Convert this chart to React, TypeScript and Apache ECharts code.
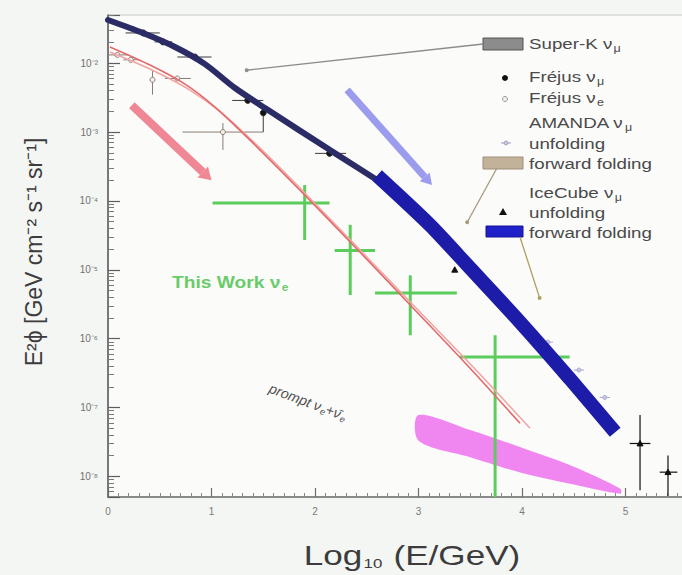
import React, { useEffect, useRef } from 'react';
import * as echarts from 'echarts';

const FONT = "'Liberation Sans', Arial, Helvetica, sans-serif";

// Axis ranges: x is log10(E/GeV), y is E^2 phi on a log scale
const X_MIN = 0;
const X_MAX = 5.7;
const Y_MIN = Math.pow(10, -8.3);
const Y_MAX = Math.pow(10, -1.3);
const X_TICK_LABELS = ['0', '1', '2', '3', '4', '5'];
const SUPERSCRIPT: Record<string, string> = {
  '-': '⁻', '0': '⁰', '1': '¹', '2': '²', '3': '³', '4': '⁴',
  '5': '⁵', '6': '⁶', '7': '⁷', '8': '⁸', '9': '⁹',
};

// Conventional nu_mu flux (dark band, low energies)
const conventionalX = [0, 0.338, 0.647, 0.937, 1.227, 1.517, 2.145, 2.754];
const conventionalY = [4.24e-2, 2.74e-2, 1.72e-2, 9.7e-3, 4.36e-3, 2.23e-3, 5.47e-4, 1.43e-4];

// IceCube nu_mu forward folding band
const iceCubeFFX = [2.6, 3.11, 3.5, 3.98, 4.46, 4.9];
const iceCubeFFY = [2.34e-4, 4.47e-5, 1.05e-5, 1.74e-6, 2.63e-7, 4.37e-8];

// nu_e model curves (pair of thin red lines)
const nueUpperX = [0.019, 0.406, 0.744, 1.034, 1.372, 1.855, 2.435, 2.986, 3.498, 3.981];
const nueUpperY = [1.72e-2, 9.4e-3, 4.98e-3, 2.31e-3, 7.64e-4, 1.43e-4, 1.8e-5, 2.42e-6, 3.71e-7, 5.89e-8];
const nueLowerX = [0.019, 0.425, 0.792, 1.101, 1.449, 1.932, 2.512, 3.072, 3.585, 4.077];
const nueLowerY = [1.45e-2, 7.96e-3, 4.07e-3, 1.89e-3, 6.25e-4, 1.17e-4, 1.47e-5, 1.98e-6, 3.14e-7, 4.98e-8];

// Prompt nu_e band: upper and lower edges
const promptX = [3.0, 3.5, 4.0, 4.5, 4.95];
const promptUpper = [7.8e-8, 4.7e-8, 2.6e-8, 1.38e-8, 6.6e-9];
const promptLower = [3.3e-8, 1.9e-8, 1.12e-8, 7.6e-9, 5.6e-9];

// Points with error bars: [x, y, xLow, xHigh, yLow, yHigh]
const thisWorkNue = [
  [1.9, 9.3e-5, 1.01, 2.14, 2.7e-5, 1.7e-4],
  [2.34, 1.9e-5, 2.19, 2.58, 4.3e-6, 4.5e-5],
  [2.92, 4.6e-6, 2.58, 3.37, 1.12e-6, 8.3e-6],
  [3.74, 5.4e-7, 3.4, 4.46, 5.0e-9, 1.12e-6],
];
const frejusNuMu = [
  [0.34, 2.75e-2, 0.17, 0.5, 2.75e-2, 2.75e-2],
  [0.53, 2.04e-2, 0.45, 0.62, 2.04e-2, 2.04e-2],
  [0.84, 1.23e-2, 0.67, 1.0, 1.23e-2, 1.23e-2],
  [1.35, 2.88e-3, 1.2, 1.5, 2.88e-3, 2.88e-3],
  [1.5, 1.9e-3, 1.5, 1.5, 1.0e-3, 2.45e-3],
  [2.14, 4.9e-4, 2.0, 2.3, 4.9e-4, 4.9e-4],
];
const frejusNue = [
  [0.09, 1.32e-2, 0.0, 0.2, 1.32e-2, 1.32e-2],
  [0.22, 1.12e-2, 0.15, 0.3, 1.12e-2, 1.12e-2],
  [0.43, 5.75e-3, 0.43, 0.43, 3.5e-3, 7.9e-3],
  [0.67, 6.0e-3, 0.55, 0.8, 6.0e-3, 6.0e-3],
  [1.11, 1.0e-3, 0.72, 1.5, 5.5e-4, 1.35e-3],
];
const iceCubeUnfolding = [
  [3.35, 1.0e-5, 3.35, 3.35, 1.0e-5, 1.0e-5],
  [3.69, 5.6e-6, 3.69, 3.69, 5.6e-6, 5.6e-6],
  [5.14, 3.0e-8, 5.04, 5.24, 6.3e-9, 7.8e-8],
  [5.41, 1.15e-8, 5.33, 5.5, 5.2e-9, 2.0e-8],
];
const amandaUnfolding = [
  [4.25, 8.9e-7, 4.2, 4.3, 8.9e-7, 8.9e-7],
  [4.55, 3.5e-7, 4.5, 4.6, 3.5e-7, 3.5e-7],
  [4.8, 1.4e-7, 4.75, 4.85, 1.4e-7, 1.4e-7],
];

// Arrows and leader lines: [x, y] in data units
const pinkArrow = [[0.23, 2.45e-3], [1.0, 2.0e-4]];
const violetArrow = [[2.31, 4.1e-3], [3.13, 1.7e-4]];
const superKLeaderEnd = [1.34, 7.9e-3];
const amandaLeaderEnd = [3.47, 4.9e-5];
const iceCubeLeaderEnd = [4.17, 3.9e-6];

const zip = (xs: number[], ys: number[]) => xs.map((x, i) => [x, ys[i]]);

const supExp = (n: number) =>
  String(n).split('').map((c) => SUPERSCRIPT[c] || c).join('');

function errorBars(name: string, rows: number[][], color: string, width: number, marker: string, size: number, fill: string) {
  return {
    type: 'custom',
    name,
    clip: true,
    silent: true,
    data: rows,
    encode: { x: 0, y: 1 },
    renderItem: (_params: any, api: any) => {
      const x = api.value(0);
      const y = api.value(1);
      const c = api.coord([x, y]);
      const l = api.coord([api.value(2), y]);
      const r = api.coord([api.value(3), y]);
      const lo = api.coord([x, api.value(4)]);
      const hi = api.coord([x, api.value(5)]);
      const children: any[] = [];
      if (r[0] - l[0] > 0.5) {
        children.push({ type: 'line', shape: { x1: l[0], y1: c[1], x2: r[0], y2: c[1] }, style: { stroke: color, lineWidth: width } });
      }
      if (lo[1] - hi[1] > 0.5) {
        children.push({ type: 'line', shape: { x1: c[0], y1: hi[1], x2: c[0], y2: lo[1] }, style: { stroke: color, lineWidth: width } });
      }
      if (marker === 'circle') {
        children.push({ type: 'circle', shape: { cx: c[0], cy: c[1], r: size }, style: { fill, stroke: color, lineWidth: 1 } });
      } else if (marker === 'triangle') {
        children.push({
          type: 'polygon',
          shape: { points: [[c[0], c[1] - size], [c[0] + size, c[1] + size * 0.8], [c[0] - size, c[1] + size * 0.8]] },
          style: { fill, stroke: color, lineWidth: 1 },
        });
      }
      return { type: 'group', children };
    },
  };
}

// Thick arrow drawn through the axes' scales
function arrowSeries(name: string, pts: number[][], color: string, width: number, head: number) {
  return {
    type: 'custom',
    name,
    clip: true,
    silent: true,
    data: [pts[0]],
    encode: { x: 0, y: 1 },
    renderItem: (_p: any, api: any) => {
      const a = api.coord(pts[0]);
      const b = api.coord(pts[1]);
      const dx = b[0] - a[0];
      const dy = b[1] - a[1];
      const len = Math.sqrt(dx * dx + dy * dy);
      const ux = dx / len;
      const uy = dy / len;
      const bx = b[0] - ux * head;
      const by = b[1] - uy * head;
      const hw = width * 0.95;
      return {
        type: 'group',
        children: [
          { type: 'line', shape: { x1: a[0], y1: a[1], x2: bx, y2: by }, style: { stroke: color, lineWidth: width } },
          {
            type: 'polygon',
            shape: { points: [[b[0], b[1]], [bx - uy * hw, by + ux * hw], [bx + uy * hw, by - ux * hw]] },
            style: { fill: color },
          },
        ],
      };
    },
  };
}

function markerLine(start: any, end: any, color: string, width: number) {
  return {
    type: 'line',
    data: [],
    silent: true,
    markLine: {
      silent: true,
      animation: false,
      label: { show: false },
      emphasis: { disabled: true },
      lineStyle: { color, width, type: 'solid', opacity: 1 },
      symbol: ['none', 'circle'],
      symbolSize: [4, 6],
      itemStyle: { color: '#3c3c2c' },
      data: [[start, end]],
    },
  };
}

function legendText(x: number, y: number, text: string) {
  return {
    type: 'text',
    x,
    y,
    scaleX: 1.25,
    silent: true,
    style: {
      text,
      x: 0,
      y: 0,
      fill: '#4a4a4a',
      font: `15px ${FONT}`,
      verticalAlign: 'middle',
      align: 'left',
      rich: { s: { fontSize: 10, fontFamily: FONT, fill: '#4a4a4a', padding: [9, 0, 0, 1] } },
    },
  };
}

export default function App() {
  const ref = useRef<HTMLDivElement>(null);

  useEffect(() => {
    if (!ref.current) return;
    const chart = echarts.init(ref.current, undefined, { renderer: 'svg' });

    const lineBase = { showSymbol: false, silent: true, smooth: 0.25 };

    const option: any = {
      animation: false,
      backgroundColor: '#f4f6f3',
      grid: {
        left: 108, top: 15, width: 590, height: 482,
        show: true, backgroundColor: '#fbfbfa', borderColor: '#c6c6c6', borderWidth: 1,
      },
      xAxis: {
        type: 'value',
        min: X_MIN,
        max: X_MAX,
        interval: 1,
        axisLine: { show: true, onZero: false, lineStyle: { color: '#6e6e6e', width: 1.5 } },
        axisTick: { show: true, inside: true, length: 9, lineStyle: { color: '#6e6e6e', width: 1.2 } },
        minorTick: { show: true, splitNumber: 10, length: 4, lineStyle: { color: '#8a8a8a' } },
        splitLine: { show: false },
        axisLabel: {
          color: '#7a7a7a', fontSize: 10, fontFamily: FONT, margin: 9, showMaxLabel: false,
          formatter: (v: number) => (Math.abs(v - Math.round(v)) < 1e-6 ? X_TICK_LABELS[Math.round(v)] || '' : ''),
        },
      },
      yAxis: {
        type: 'log',
        logBase: 10,
        min: Y_MIN,
        max: Y_MAX,
        axisLine: { show: true, lineStyle: { color: '#5e5e5e', width: 1.6 } },
        axisTick: { show: true, inside: true, length: 12, lineStyle: { color: '#5e5e5e', width: 1.2 } },
        minorTick: { show: true, splitNumber: 9, length: 6, lineStyle: { color: '#7a7a7a' } },
        splitLine: { show: false },
        axisLabel: {
          color: '#707070', fontSize: 10, fontFamily: FONT, margin: 10,
          showMinLabel: false, showMaxLabel: false,
          formatter: (v: number) => '10' + supExp(Math.round(Math.log10(v))),
        },
      },
      series: [
        // prompt nu_e band
        {
          type: 'custom',
          name: 'prompt',
          silent: true,
          clip: true,
          data: [[promptX[0], promptUpper[0]]],
          encode: { x: 0, y: 1 },
          renderItem: (_p: any, api: any) => {
            const top = promptX.map((x, i) => api.coord([x, promptUpper[i]]));
            const bottom = promptX.map((x, i) => api.coord([x, promptLower[i]])).reverse();
            return {
              type: 'polygon',
              shape: { points: top.concat(bottom), smooth: 0.3 },
              style: { fill: '#ef80ef', opacity: 0.95 },
            };
          },
        },
        { ...lineBase, type: 'line', name: 'nu_e model a', data: zip(nueLowerX, nueLowerY), lineStyle: { color: '#f2a4a4', width: 1.6 } },
        { ...lineBase, type: 'line', name: 'nu_e model b', data: zip(nueUpperX, nueUpperY), lineStyle: { color: '#e26a6a', width: 1.6 } },
        { ...lineBase, type: 'line', name: 'conventional', data: zip(conventionalX, conventionalY), lineStyle: { color: '#2b2b66', width: 6, cap: 'round' } },
        { ...lineBase, type: 'line', name: 'IceCube forward folding', data: zip(iceCubeFFX, iceCubeFFY), lineStyle: { color: '#1c1ca8', width: 14, cap: 'butt' } },
        arrowSeries('pink arrow', pinkArrow, '#f08794', 8, 12),
        arrowSeries('violet arrow', violetArrow, '#9c9cee', 7, 11),
        errorBars('This Work nu_e', thisWorkNue, '#5ccd5c', 3, 'none', 0, 'none'),
        errorBars('Frejus nu_mu', frejusNuMu, '#3a3a3a', 1, 'circle', 3, '#111'),
        errorBars('Frejus nu_e', frejusNue, '#8a7c72', 1, 'circle', 2.5, '#f4f0ee'),
        errorBars('AMANDA unfolding', amandaUnfolding, '#a8a8d0', 1, 'circle', 2, '#c8c8e8'),
        errorBars('IceCube unfolding', iceCubeUnfolding, '#111', 1.2, 'triangle', 3, '#111'),
        markerLine({ x: 483, y: 44 }, { coord: superKLeaderEnd }, '#8c8c8c', 1.3),
        markerLine({ x: 497, y: 168 }, { coord: amandaLeaderEnd }, '#a89a80', 1.3),
        markerLine({ x: 520, y: 237 }, { coord: iceCubeLeaderEnd }, '#b0a060', 1.3),
      ],
      graphic: [
        // axis titles
        {
          type: 'text', x: 34, y: 252, rotation: Math.PI / 2, silent: true,
          style: {
            text: 'E²ϕ [GeV cm⁻² s⁻¹ sr⁻¹]', x: 0, y: 0, align: 'center', verticalAlign: 'middle',
            fill: '#3c3c3c', font: `23px ${FONT}`,
          },
        },
        {
          type: 'text', x: 412, y: 556, scaleX: 1.3, silent: true,
          style: {
            text: 'Log{s|10} (E/GeV)', x: 0, y: 0, align: 'center', verticalAlign: 'middle',
            fill: '#3c3c3c', font: `27px ${FONT}`,
            rich: { s: { fontSize: 13, fontFamily: FONT, fill: '#3c3c3c', padding: [14, 1, 0, 1] } },
          },
        },
        // plot annotations
        {
          type: 'text', x: 172, y: 283, scaleX: 1.2, silent: true,
          style: {
            text: 'This Work ν{s|e}', x: 0, y: 0, align: 'left', verticalAlign: 'middle',
            fill: '#6acb6a', font: `bold 16px ${FONT}`,
            rich: { s: { fontSize: 10, fontWeight: 'bold', fontFamily: FONT, fill: '#6acb6a', padding: [9, 0, 0, 1] } },
          },
        },
        {
          type: 'text', x: 308, y: 402, rotation: -0.36, silent: true,
          style: {
            text: 'prompt ν{s|e}+ν̄{s|e}', x: 0, y: 0, align: 'center', verticalAlign: 'middle',
            fill: '#505050', font: `italic 14px ${FONT}`,
            rich: { s: { fontSize: 9, fontStyle: 'italic', fontFamily: FONT, fill: '#505050', padding: [8, 0, 0, 1] } },
          },
        },
        // legend
        { type: 'rect', silent: true, shape: { x: 483, y: 38, width: 40, height: 12 }, style: { fill: '#8c8c8c', stroke: '#555', lineWidth: 1 } },
        legendText(529, 44, 'Super-K ν{s|μ}'),
        { type: 'circle', silent: true, shape: { cx: 505, cy: 78, r: 3 }, style: { fill: '#111' } },
        legendText(529, 77, 'Fréjus ν{s|μ}'),
        { type: 'circle', silent: true, shape: { cx: 505, cy: 99, r: 2.5 }, style: { fill: '#f4f0ee', stroke: '#9a9a9a', lineWidth: 1 } },
        legendText(529, 98, 'Fréjus ν{s|e}'),
        legendText(529, 123, 'AMANDA ν{s|μ}'),
        legendText(529, 144, 'unfolding'),
        { type: 'line', silent: true, shape: { x1: 501, y1: 143, x2: 511, y2: 143 }, style: { stroke: '#a0a0b8', lineWidth: 1 } },
        { type: 'circle', silent: true, shape: { cx: 506, cy: 143, r: 2 }, style: { fill: '#c8c8e8', stroke: '#a0a0c0' } },
        { type: 'rect', silent: true, shape: { x: 483, y: 157, width: 40, height: 12 }, style: { fill: '#c2b29a', stroke: '#9e8e76', lineWidth: 1 } },
        legendText(529, 164, 'forward folding'),
        legendText(529, 193, 'IceCube ν{s|μ}'),
        legendText(529, 213, 'unfolding'),
        { type: 'polygon', silent: true, shape: { points: [[503, 208], [507, 215], [499, 215]] }, style: { fill: '#111' } },
        { type: 'rect', silent: true, shape: { x: 486, y: 226, width: 37, height: 11 }, style: { fill: '#2020c8', stroke: '#15159a', lineWidth: 1 } },
        legendText(529, 233, 'forward folding'),
      ],
    };

    chart.setOption(option);
    return () => chart.dispose();
  }, []);

  // The chart canvas runs a little past the right edge of the window,
  // so the plot frame continues beyond the visible area.
  return (
    <div
      ref={ref}
      style={{ position: 'fixed', left: 0, top: 0, width: 700, height: 575 }}
    />
  );
}
